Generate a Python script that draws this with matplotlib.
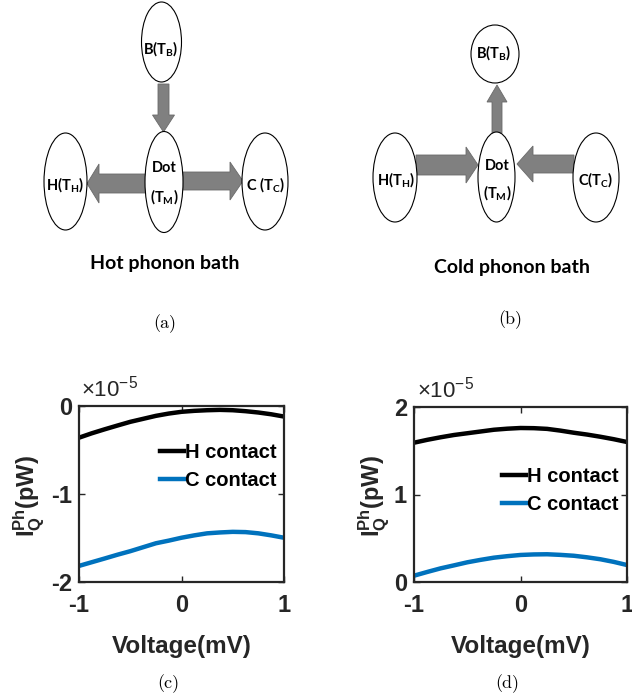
import numpy as np
import matplotlib
matplotlib.use("Agg")
import matplotlib.pyplot as plt
from matplotlib.patches import Ellipse, FancyArrow

# ---------------- data ----------------
voltage = [-1.0, -0.875, -0.75, -0.625, -0.5, -0.375, -0.25, -0.125, 0.0,
           0.125, 0.25, 0.375, 0.5, 0.625, 0.75, 0.875, 1.0]
hot_H = [-0.36, -0.31, -0.265, -0.222, -0.18, -0.146, -0.112, -0.086, -0.066,
         -0.055, -0.048, -0.044, -0.048, -0.059, -0.074, -0.094, -0.12]
hot_C = [-1.817, -1.775, -1.733, -1.69, -1.65, -1.605, -1.56, -1.53, -1.497,
         -1.47, -1.447, -1.437, -1.43, -1.433, -1.447, -1.47, -1.497]
cold_H = [1.592, 1.625, 1.654, 1.68, 1.70, 1.72, 1.74, 1.752, 1.76,
          1.758, 1.75, 1.73, 1.706, 1.685, 1.66, 1.632, 1.60]
cold_C = [0.072, 0.115, 0.156, 0.19, 0.225, 0.253, 0.278, 0.295, 0.309,
          0.315, 0.317, 0.31, 0.30, 0.282, 0.26, 0.23, 0.194]
series_labels = ["H contact", "C contact"]
x_ticks = [-1, 0, 1]
hot_yticks = [-2, -1, 0]
cold_yticks = [0, 1, 2]
panel_titles = ["Hot phonon bath", "Cold phonon bath"]
panel_tags = ["(a)", "(b)", "(c)", "(d)"]

plt.rcParams['mathtext.fontset'] = 'custom'
plt.rcParams['mathtext.rm'] = 'Liberation Sans'
plt.rcParams['mathtext.bf'] = 'Liberation Sans:bold'
plt.rcParams['mathtext.sf'] = 'Lato:bold'
plt.rcParams['mathtext.it'] = 'Liberation Sans:italic'

W, H = 632, 696
fig = plt.figure(figsize=(W / 100, H / 100), dpi=100)

# ---------------- diagrams ----------------
dax = fig.add_axes([0, 0, 1, 1])
dax.set_xlim(0, W)
dax.set_ylim(H, 0)
dax.axis('off')

ARROW = dict(color='#808080', ec='#6a6a6a', lw=0.6, length_includes_head=True)
ELL = dict(fc='white', ec='black', lw=0.8)
LBL = dict(ha='center', va='center', fontsize=10.5, family='Lato', weight='bold')

# (a) hot phonon bath
dax.add_patch(FancyArrow(163.5, 84, 0, 48, width=11, head_width=22, head_length=17, **ARROW))
dax.add_patch(FancyArrow(146, 183.5, -59, 0, width=19, head_width=39, head_length=12, **ARROW))
dax.add_patch(FancyArrow(183, 181, 60, 0, width=18, head_width=38, head_length=13, **ARROW))
dax.add_patch(Ellipse((161.5, 42), 40, 80, **ELL))
dax.add_patch(Ellipse((164, 182), 38, 101, **ELL))
dax.add_patch(Ellipse((65.5, 181.5), 43, 97, **ELL))
dax.add_patch(Ellipse((265, 181.5), 46, 97, **ELL))
dax.text(161, 49, r'$\mathsf{B(T_B)}$', **LBL)
dax.text(164, 168, 'Dot', **LBL)
dax.text(164, 197, r'$\mathsf{(T_M)}$', **LBL)
dax.text(65, 185, r'$\mathsf{H(T_H)}$', **LBL)
dax.text(266, 185, r'$\mathsf{C\ (T_C)}$', **LBL)
dax.text(165, 263, panel_titles[0], ha='center', va='center', fontsize=14,
         family='Lato', weight='bold')
dax.text(165, 324, panel_tags[0], ha='center', va='center', fontsize=13, family='cmr10')

# (b) cold phonon bath
dax.add_patch(FancyArrow(497, 133, 0, -48, width=10, head_width=20, head_length=17, **ARROW))
dax.add_patch(FancyArrow(416, 165, 62, 0, width=20, head_width=36, head_length=12, **ARROW))
dax.add_patch(FancyArrow(574, 164, -57, 0, width=18, head_width=36, head_length=16, **ARROW))
dax.add_patch(Ellipse((495, 54), 48, 58, **ELL))
dax.add_patch(Ellipse((496.5, 177), 37, 90, **ELL))
dax.add_patch(Ellipse((395, 177.5), 44, 89, **ELL))
dax.add_patch(Ellipse((596, 177.5), 46, 89, **ELL))
dax.text(494, 53, r'$\mathsf{B(T_B)}$', **LBL)
dax.text(497, 166, 'Dot', **LBL)
dax.text(497, 193, r'$\mathsf{(T_M)}$', **LBL)
dax.text(396, 180, r'$\mathsf{H(T_H)}$', **LBL)
dax.text(596, 180, r'$\mathsf{C(T_C)}$', **LBL)
dax.text(512, 267, panel_titles[1], ha='center', va='center', fontsize=14,
         family='Lato', weight='bold')
dax.text(510, 320, panel_tags[1], ha='center', va='center', fontsize=13, family='cmr10')

# ---------------- plots ----------------
TICKFONT = 'Liberation Sans'
colors = ['black', '#0072BD']


def make_plot(rect, yH, yC, yticks, ylabel_x, legend_anchor, tag_x, tag):
    ax = fig.add_axes(rect)
    ax.plot(voltage, yH, color=colors[0], lw=3.2, label=series_labels[0])
    ax.plot(voltage, yC, color=colors[1], lw=3.2, label=series_labels[1])
    ax.set_xlim(-1, 1)
    ax.set_ylim(min(yticks), max(yticks))
    ax.set_xticks(x_ticks)
    ax.set_yticks(yticks)
    ax.set_xticklabels([str(t) for t in x_ticks], family=TICKFONT, weight='bold',
                       fontsize=17, color='#262626')
    ax.set_yticklabels([str(t) for t in yticks], family=TICKFONT, weight='bold',
                       fontsize=17, color='#262626')
    ax.tick_params(direction='in', top=True, right=True, length=4, width=1, color='#262626')
    ax.tick_params(axis='x', pad=9)
    ax.tick_params(axis='y', pad=5)
    for s in ax.spines.values():
        s.set_linewidth(1.6)
        s.set_color('#262626')
    ax.set_xlabel('Voltage(mV)', family=TICKFONT, weight='bold', fontsize=17.5, color='#262626')
    ax.xaxis.set_label_coords(0.5, -0.30)
    ax.set_ylabel(r'$\mathbf{I_Q^{Ph}(pW)}$', fontsize=17, va='center', color='#262626')
    ax.yaxis.set_label_coords(ylabel_x, 0.49)
    ax.text(0.012, 1.03, r'$\times10^{-5}$', transform=ax.transAxes, fontsize=16,
            ha='left', va='bottom', color='#262626')
    ax.legend(loc='upper right', bbox_to_anchor=legend_anchor, frameon=False,
              prop={'family': 'Liberation Sans', 'weight': 'bold', 'size': 14.5},
              handlelength=1.2, handletextpad=0.05, labelspacing=0.45,
              borderpad=0, borderaxespad=0)
    fig.text(tag_x, 1 - 684 / H, tag, ha='center', va='center', fontsize=13, family='cmr10')
    return ax


make_plot([79 / W, 1 - 582 / H, 205 / W, 176 / H], hot_H, hot_C, hot_yticks,
          -0.245, (0.965, 0.79), 168 / W, panel_tags[2])
make_plot([414 / W, 1 - 582 / H, 213 / W, 175 / H], cold_H, cold_C, cold_yticks,
          -0.19, (0.96, 0.655), 507 / W, panel_tags[3])

fig.savefig('out.png', dpi=100)
